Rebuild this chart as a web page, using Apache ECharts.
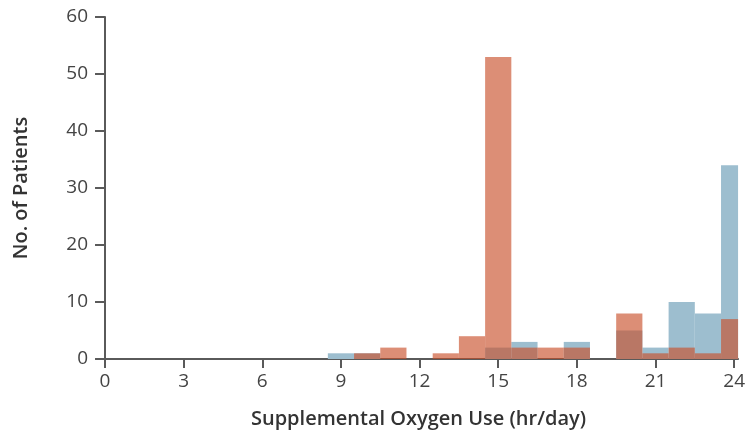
<!DOCTYPE html>
<html>
<head>
<meta charset="utf-8">
<script src="https://cdn.jsdelivr.net/npm/echarts@6/dist/echarts.min.js"></script>
<style>
  html, body { margin: 0; padding: 0; background: #fff; }
  #chart { width: 748px; height: 434px; }
</style>
</head>
<body>
<div id="chart"></div>
<script>
// Histogram bins: centre of each 1-hour bin (hr/day)
const binCentres = [9, 10, 11, 13, 14, 15, 16, 17, 18, 20, 21, 22, 23, 24];
// Patient counts per bin for the two groups
const blueCounts   = [1, 1, 0, 0, 0, 2, 3, 0, 3, 5, 2, 10, 8, 34];
const orangeCounts = [0, 1, 2, 1, 4, 53, 2, 2, 2, 8, 1, 2, 1, 7];
const xTicks = [0, 3, 6, 9, 12, 15, 18, 21, 24];
const yTicks = [0, 10, 20, 30, 40, 50, 60];
const binWidth = 1;

function toData(counts) {
  return binCentres.map((c, i) => [c, counts[i]]).filter(d => d[1] > 0);
}

function renderBin(params, api) {
  const c = api.value(0);
  const v = api.value(1);
  const topLeft = api.coord([c - binWidth / 2, v]);
  const bottomRight = api.coord([c + binWidth / 2, 0]);
  const cs = params.coordSys;
  const shape = echarts.graphic.clipRectByRect(
    { x: topLeft[0], y: topLeft[1], width: bottomRight[0] - topLeft[0], height: bottomRight[1] - topLeft[1] },
    { x: cs.x, y: cs.y, width: cs.width, height: cs.height }
  );
  return shape && { type: 'rect', shape: shape, style: api.style() };
}

const chart = echarts.init(document.getElementById('chart'), null, { renderer: 'canvas' });
const axisColor = '#5a5a5a';
const textColor = '#444';
const fontFam = '"Open Sans", "Noto Sans", sans-serif';

chart.setOption({
  animation: false,
  grid: { left: 99, right: 9, top: 17, bottom: 74 },
  xAxis: {
    type: 'value',
    min: -0.23,
    max: 24.15,
    splitLine: { show: false },
    axisLine: { lineStyle: { color: axisColor, width: 2 } },
    axisTick: { customValues: xTicks, length: 9, lineStyle: { color: axisColor, width: 2 } },
    axisLabel: { customValues: xTicks, color: textColor, fontSize: 19, fontFamily: fontFam, margin: 13 },
    name: 'Supplemental Oxygen Use (hr/day)',
    nameLocation: 'middle',
    nameGap: 50,
    nameTextStyle: { color: '#333', fontSize: 20, fontWeight: 600, fontFamily: fontFam }
  },
  yAxis: {
    type: 'value',
    min: 0,
    max: 60,
    interval: 10,
    splitLine: { show: false },
    axisLine: { show: true, lineStyle: { color: axisColor, width: 2 } },
    axisTick: { show: true, length: 10, lineStyle: { color: axisColor, width: 2 } },
    axisLabel: { customValues: yTicks, color: textColor, fontSize: 19, fontFamily: fontFam, margin: 11 },
    name: 'No. of Patients',
    nameLocation: 'middle',
    nameGap: 68,
    nameTextStyle: { color: '#333', fontSize: 20, fontWeight: 600, fontFamily: fontFam }
  },
  series: [
    {
      type: 'custom',
      renderItem: renderBin,
      encode: { x: 0, y: 1 },
      data: toData(blueCounts),
      itemStyle: { color: '#9dbecf' }
    },
    {
      type: 'custom',
      renderItem: renderBin,
      encode: { x: 0, y: 1 },
      data: toData(orangeCounts),
      itemStyle: { color: 'rgb(200,78,40)', opacity: 0.64 }
    }
  ]
});
</script>
</body>
</html>
